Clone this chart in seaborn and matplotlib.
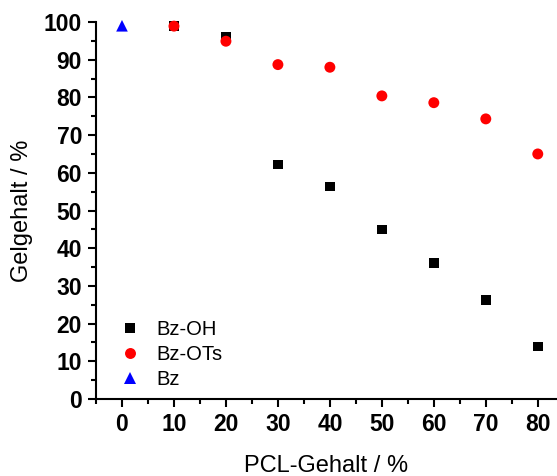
import pandas as pd
import matplotlib
matplotlib.use('Agg')
import matplotlib.pyplot as plt
import seaborn as sns
from matplotlib.ticker import MultipleLocator

# Daten
pcl_oh = [10, 20, 30, 40, 50, 60, 70, 80]
gel_oh = [99.0, 96.0, 62.2, 56.4, 45.0, 36.0, 26.3, 13.9]

pcl_ots = [10, 20, 30, 40, 50, 60, 70, 80]
gel_ots = [98.9, 94.9, 88.7, 88.0, 80.4, 78.6, 74.3, 65.0]

pcl_bz = [0]
gel_bz = [99.0]

df = pd.concat([
    pd.DataFrame({'pcl': pcl_oh, 'gel': gel_oh, 'probe': 'Bz-OH'}),
    pd.DataFrame({'pcl': pcl_ots, 'gel': gel_ots, 'probe': 'Bz-OTs'}),
    pd.DataFrame({'pcl': pcl_bz, 'gel': gel_bz, 'probe': 'Bz'}),
], ignore_index=True)

sns.set_style('ticks')
plt.rcParams['font.family'] = ['Liberation Sans', 'DejaVu Sans']
plt.rcParams['text.color'] = 'black'
plt.rcParams['axes.labelcolor'] = 'black'

fig = plt.figure(figsize=(5.57, 4.76), dpi=100)
ax = fig.add_axes([96/557, 77/476, 461/557, 377/476])

farben = {'Bz-OH': 'black', 'Bz-OTs': 'red', 'Bz': 'blue'}
marker = {'Bz-OH': 's', 'Bz-OTs': 'o', 'Bz': '^'}
groesse = {'Bz-OH': 48, 'Bz-OTs': 62, 'Bz': 70}
sns.scatterplot(data=df, x='pcl', y='gel', hue='probe', style='probe',
                size='probe', sizes=groesse,
                palette=farben, markers=marker, linewidth=0,
                ax=ax, zorder=3, clip_on=False)

ax.set_xlim(-5, 83.7)
ax.set_ylim(0, 100)
ax.xaxis.set_major_locator(MultipleLocator(10))
ax.xaxis.set_minor_locator(MultipleLocator(5))
ax.yaxis.set_major_locator(MultipleLocator(10))
ax.yaxis.set_minor_locator(MultipleLocator(5))
ax.set_xticks(range(0, 81, 10))

for s in ['top', 'right']:
    ax.spines[s].set_visible(False)
for s in ['left', 'bottom']:
    ax.spines[s].set_linewidth(1.5)
    ax.spines[s].set_color('black')

ax.tick_params(which='major', direction='out', length=6, width=1.5, colors='black',
               labelsize=16.5, pad=4)
ax.tick_params(which='minor', direction='out', length=3.5, width=1.5, colors='black')
for lab in ax.get_xticklabels() + ax.get_yticklabels():
    lab.set_fontweight('bold')

ax.set_xlabel('PCL-Gehalt / %', fontsize=17, labelpad=14)
ax.set_ylabel('Gelgehalt / %', fontsize=17, labelpad=8)

ax.legend(loc='lower left', bbox_to_anchor=(0.0, -0.01), frameon=False,
          fontsize=14.5, handletextpad=0.3, labelspacing=0.3, borderaxespad=0.3)

fig.savefig('out.png', dpi=100)
